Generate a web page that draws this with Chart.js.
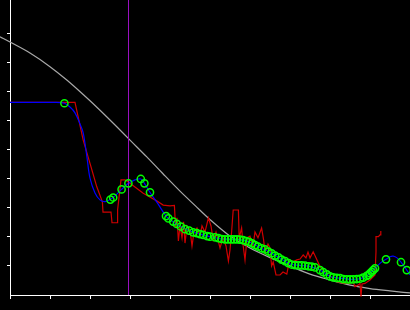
<!DOCTYPE html>
<html>
<head>
<meta charset="utf-8">
<script src="https://cdn.jsdelivr.net/npm/chart.js@4.4.1/dist/chart.umd.min.js"></script>
<style>
  html, body { margin: 0; padding: 0; background: #000; }
  canvas { display: block; background: #000; }
</style>
</head>
<body>
<canvas id="fitChart" width="410" height="310"></canvas>
<script>
// tick positions
var xTicks = [0, 1, 2, 3, 4, 5, 6, 7, 8, 9, 10];
var yTicks = [1, 2, 3, 4, 5, 6, 7, 8, 9];

// marker position (vertical line)
var markerX = 2.9625;

// gray reference curve
var refX = [-0.25, 0, 0.5, 1.0, 1.42, 1.83, 2.25, 2.67, 3.0, 3.42, 3.83, 4.25, 4.63, 5.0, 5.5, 6.0, 6.5, 7.0, 7.5, 8.0, 8.5, 9.0, 9.5, 10];
var refY = [8.90, 8.72, 8.34, 7.87, 7.41, 6.91, 6.37, 5.80, 5.34, 4.76, 4.17, 3.58, 3.08, 2.60, 2.03, 1.62, 1.29, 1.0, 0.72, 0.52, 0.34, 0.22, 0.14, 0.07];

// raw (red) signal
var rawX = [0, 1.625, 1.83, 2.0, 2.17, 2.31, 2.325, 2.525, 2.55, 2.69, 2.69, 2.775, 2.875, 3.0, 3.33, 3.625, 3.83, 4.0, 4.11,
  4.14, 4.175, 4.21, 4.25, 4.3, 4.34, 4.375, 4.425, 4.5, 4.55, 4.6, 4.675, 4.75, 4.8, 4.875, 4.96, 5.025, 5.08, 5.15, 5.25,
  5.325, 5.4, 5.46, 5.5, 5.54, 5.58, 5.71, 5.73, 5.79, 5.83, 5.875, 5.925, 6.0, 6.075, 6.125, 6.2, 6.29, 6.34, 6.375, 6.45,
  6.5, 6.54, 6.58, 6.65, 6.75, 6.825, 6.92, 6.96, 7.0, 7.075, 7.17, 7.25, 7.33, 7.4, 7.45, 7.5, 7.58, 7.65, 7.75, 7.825,
  7.92, 8.0, 8.17, 8.325, 8.5, 8.575, 8.625, 8.7, 8.75, 8.775, 8.8, 8.875, 9.0, 9.08, 9.125, 9.15, 9.15, 9.21, 9.25, 9.27];
var rawY = [6.64, 6.64, 5.34, 4.54, 3.73, 3.21, 2.86, 2.86, 2.49, 2.49, 2.93, 3.97, 3.97, 3.85, 3.51, 3.28, 3.10, 3.07, 3.09,
  2.31, 2.66, 1.86, 2.38, 1.97, 2.52, 1.79, 2.38, 2.24, 1.69, 2.17, 2.31, 2.03, 2.38, 2.17, 2.66, 2.38, 1.90, 2.17, 1.62,
  1.97, 1.69, 1.17, 1.55, 2.17, 2.93, 2.93, 1.97, 2.31, 1.69, 1.21, 1.97, 2.03, 1.69, 2.17, 1.97, 2.31, 1.90, 1.48, 1.76,
  1.62, 1.0, 1.14, 0.69, 0.69, 0.79, 0.72, 1.0, 1.21, 1.14, 1.21, 1.24, 1.38, 1.28, 1.48, 1.28, 1.49, 1.28, 0.98, 0.86,
  0.69, 0.66, 0.46, 0.41, 0.40, 0.45, 0.29, 0.34, 0.40, -0.06, 0.38, 0.40, 0.52, 0.63, 0.69, 1.49, 2.01, 2.01, 2.07, 2.21];

// smoothed (blue) signal
var smoothX = [0, 1.125, 1.36, 1.5, 1.625, 1.75, 1.83, 1.92, 2.0, 2.125, 2.25, 2.375, 2.525, 2.65, 2.79, 2.96, 3.125, 3.27,
  3.36, 3.5, 3.7, 3.9, 4.0, 4.25, 4.5, 4.75, 5.0, 5.25, 5.5, 5.75, 6.0, 6.25, 6.5, 6.75, 7.0, 7.25, 7.5, 7.75, 8.0, 8.25,
  8.5, 8.75, 8.92, 9.04, 9.25, 9.4, 9.5, 9.58, 9.675, 9.775, 9.92, 10];
var smoothY = [6.64, 6.64, 6.61, 6.48, 6.28, 5.90, 5.59, 4.79, 4.03, 3.52, 3.28, 3.22, 3.31, 3.45, 3.64, 3.85, 3.97, 4.0,
  3.85, 3.54, 3.14, 2.72, 2.60, 2.37, 2.21, 2.10, 2.01, 1.94, 1.92, 1.91, 1.82, 1.64, 1.47, 1.27, 1.07, 1.02, 0.98, 0.86,
  0.64, 0.58, 0.54, 0.56, 0.66, 0.80, 1.09, 1.23, 1.32, 1.34, 1.28, 1.13, 0.86, 0.69];

// sample points (green circles)
var sampleX = [1.36, 2.51, 2.58, 2.79, 2.96, 3.27, 3.36, 3.5, 3.9, 3.96, 4.08, 4.17, 4.27, 4.375, 4.48, 4.58, 4.67, 4.75,
  4.83, 4.93, 5.0, 5.125, 5.21, 5.29, 5.375, 5.45, 5.525, 5.6, 5.675, 5.75, 5.825, 5.9, 5.975, 6.05, 6.125, 6.2, 6.29,
  6.375, 6.46, 6.54, 6.625, 6.71, 6.79, 6.875, 6.96, 7.04, 7.125, 7.21, 7.29, 7.375, 7.46, 7.54, 7.625, 7.75, 7.83, 7.92,
  8.0, 8.08, 8.17, 8.25, 8.33, 8.42, 8.5, 8.58, 8.67, 8.75, 8.83, 8.92, 8.96, 9.0, 9.04, 9.08, 9.125, 9.4, 9.775, 9.92];
var sampleY = [6.61, 3.29, 3.36, 3.64, 3.85, 4.0, 3.85, 3.54, 2.72, 2.64, 2.53, 2.45, 2.36, 2.27, 2.22, 2.16, 2.13, 2.10,
  2.07, 2.03, 2.01, 1.99, 1.96, 1.93, 1.92, 1.92, 1.92, 1.92, 1.92, 1.91, 1.89, 1.86, 1.83, 1.78, 1.72, 1.67, 1.61,
  1.57, 1.50, 1.44, 1.36, 1.30, 1.22, 1.17, 1.10, 1.05, 1.03, 1.02, 1.02, 1.01, 0.99, 0.98, 0.95, 0.86, 0.79, 0.71,
  0.64, 0.61, 0.59, 0.58, 0.55, 0.54, 0.54, 0.54, 0.55, 0.56, 0.60, 0.66, 0.69, 0.75, 0.80, 0.86, 0.92, 1.23, 1.13, 0.86];

function pts(xs, ys) {
  var out = [];
  for (var i = 0; i < xs.length; i += 1) {
    out.push({x: xs[i], y: ys[i]});
  }
  return out;
}

var yMax = 10.17;

var data = {
  datasets: [{
    label: "samples",
    data: pts(sampleX, sampleY),
    showLine: false,
    pointStyle: 'circle',
    pointRadius: 3.6,
    pointBorderWidth: 1.5,
    pointBorderColor: "#00ff00",
    pointBackgroundColor: "rgba(0,0,0,0)",
    clip: false,
    order: 0
  }, {
    label: "marker",
    data: [{x: markerX, y: 0}, {x: markerX, y: yMax}],
    borderColor: "#9a10c0",
    borderWidth: 1,
    pointRadius: 0,
    order: 1
  }, {
    label: "smoothed",
    data: pts(smoothX, smoothY),
    borderColor: "#0000ff",
    borderWidth: 1.2,
    tension: 0.35,
    pointRadius: 0,
    order: 2
  }, {
    label: "raw",
    data: pts(rawX, rawY),
    borderColor: "#d00000",
    borderWidth: 1.2,
    tension: 0,
    pointRadius: 0,
    clip: false,
    order: 3
  }, {
    label: "reference",
    data: pts(refX, refY),
    borderColor: "#a8a8a8",
    borderWidth: 1.2,
    cubicInterpolationMode: 'monotone',
    pointRadius: 0,
    clip: false,
    order: 4
  }]
};

var option = {
  responsive: false,
  animation: false,
  layout: { padding: 0, autoPadding: false },
  plugins: {
    legend: { display: false },
    tooltip: { enabled: false }
  },
  scales: {
    x: {
      type: 'linear',
      min: 0,
      max: 10,
      afterBuildTicks: function(scale) {
        scale.ticks = xTicks.map(function(v) { return {value: v}; });
      },
      afterFit: function(scale) { scale.height = 15; },
      ticks: { display: false },
      grid: { drawOnChartArea: false, drawTicks: true, tickLength: 4, color: "#ffffff", lineWidth: 1 },
      border: { display: true, color: "#ffffff", width: 1 }
    },
    y: {
      type: 'linear',
      min: 0,
      max: yMax,
      afterBuildTicks: function(scale) {
        scale.ticks = yTicks.map(function(v) { return {value: v}; });
      },
      afterFit: function(scale) { scale.width = 10; },
      ticks: { display: false },
      grid: { drawOnChartArea: false, drawTicks: true, tickLength: 3, color: "#ffffff", lineWidth: 1 },
      border: { display: true, color: "#ffffff", width: 1 }
    }
  }
};

var canvas = document.getElementById('fitChart');
var myChart = new Chart(canvas, {
  type: "line",
  data: data,
  options: option
});
</script>
</body>
</html>
